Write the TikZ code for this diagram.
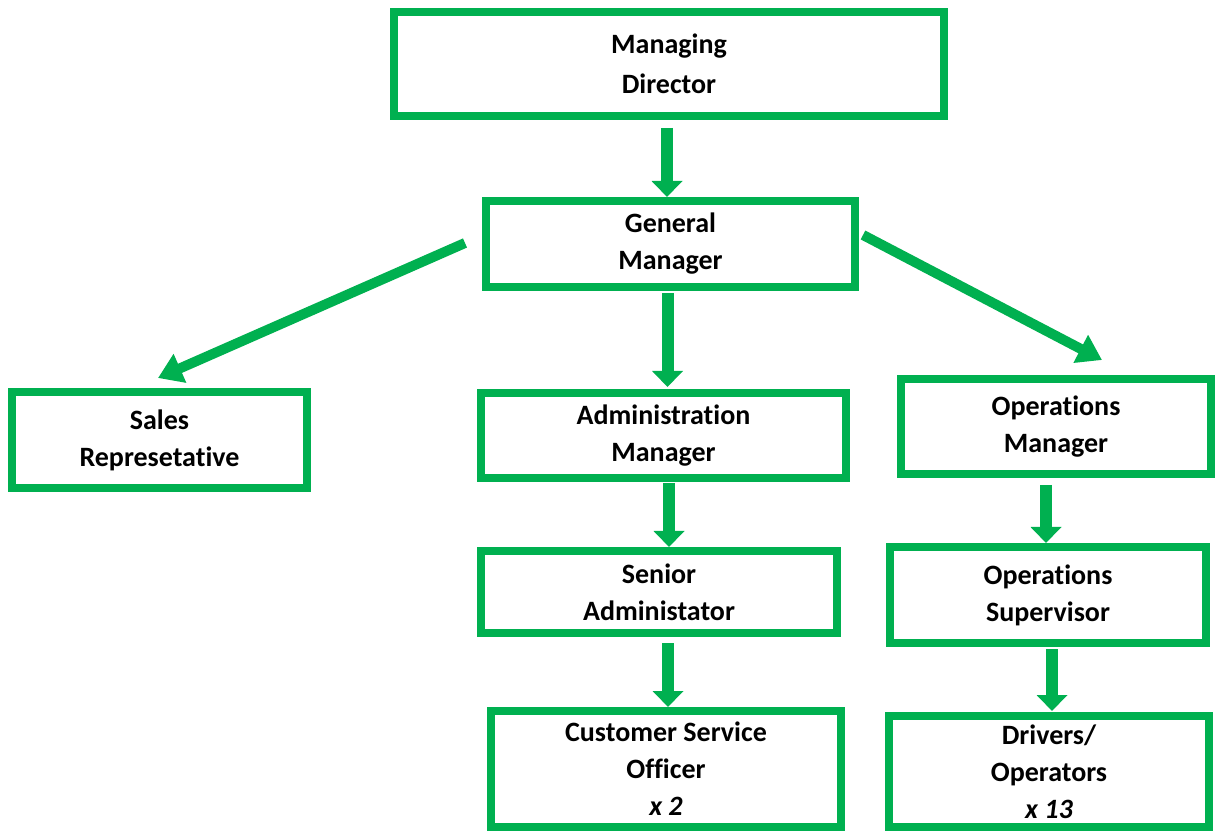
\documentclass[tikz,border=0pt]{standalone}
\usepackage{fontspec}
\setmainfont{Carlito}[Ligatures=NoCommon]
\usetikzlibrary{arrows.meta}
\definecolor{boxgreen}{RGB}{0,176,80}
\tikzset{
  post/.style={draw=boxgreen, line width=4pt, align=center, inner sep=0pt,
    font=\bfseries\fontsize{14}{18.5}\selectfont},
  varrow/.style={draw=boxgreen, line width=6pt,
    -{Triangle[width=15pt,length=8pt]}},
  darrow/.style={draw=boxgreen, line width=5pt,
    -{Triangle[width=15pt,length=12pt]}}
}
\begin{document}
\begin{tikzpicture}[x=0.5pt,y=-0.5pt]
\useasboundingbox (0,0) rectangle (1215,833);
% top row
\node[post, minimum width=275pt, minimum height=52pt,
  font=\bfseries\fontsize{14}{20}\selectfont] (md) at (669,64) {Managing\\Director};
\node[post, minimum width=184.5pt, minimum height=43pt] (gm) at (670.5,244) {General\\Manager};
% second row
\node[post, minimum width=147.5pt, minimum height=48pt] (sales) at (159.5,440) {Sales\\Represetative};
\node[post, minimum width=182.5pt, minimum height=42.5pt] (adm) at (663.5,435.5) {Administration\\Manager};
\node[post, minimum width=155pt, minimum height=47.5pt] (opsm) at (1056,426.5) {Operations\\Manager};
% third row
\node[post, minimum width=178pt, minimum height=41pt] (sen) at (659,592) {Senior\\Administator};
\node[post, minimum width=158pt, minimum height=48pt] (opss) at (1048,595) {Operations\\Supervisor};
% bottom row
\node[post, minimum width=175pt, minimum height=58pt] (cso) at (666,769) {Customer Service\\Officer\\\textit{x 2}};
\node[post, minimum width=160pt, minimum height=55.5pt] (drv) at (1049,771.5) {Drivers/\\Operators\\\textit{x 13}};
% arrows
\draw[varrow, shorten <=4pt] ([shift={(-2,0)}]md.south) -- ([shift={(-2,0)}]md.south |- gm.north);
\draw[varrow, shorten <=1pt, shorten >=1pt] ([shift={(-3,0)}]gm.south) -- ([shift={(-3,0)}]gm.south |- adm.north);
\draw[varrow, shorten <=0.5pt] ([shift={(5.5,0)}]adm.south) -- ([shift={(5.5,0)}]adm.south |- sen.north);
\draw[varrow, shorten <=3pt] ([shift={(2,0)}]sen.south -| cso.north) -- ([shift={(2,0)}]cso.north);
\draw[varrow, shorten <=3.5pt] ([shift={(-2,0)}]opsm.south -| opss.north) -- ([shift={(-2,0)}]opss.north);
\draw[varrow, shorten <=1pt, shorten >=0.5pt] ([shift={(3,0)}]opss.south -| drv.north) -- ([shift={(3,0)}]drv.north);
\draw[darrow] ([shift={(-17,-1)}]gm.west) -- ([shift={(-1.5,-10)}]sales.north);
\draw[darrow] ([shift={(4,-9)}]gm.east) -- ([shift={(46,-15)}]opsm.north);
\end{tikzpicture}
\end{document}
